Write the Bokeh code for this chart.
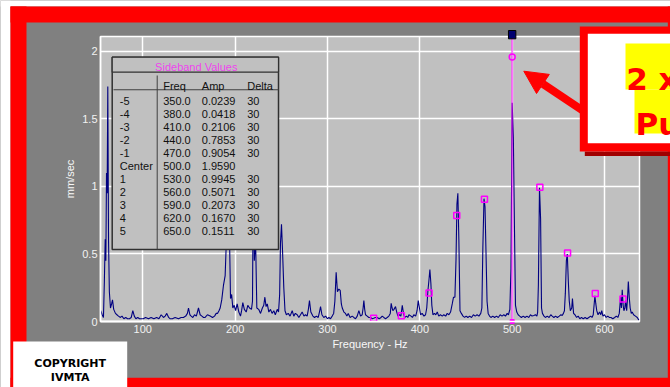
from bokeh.plotting import figure
from bokeh.models import (Range1d, BoxAnnotation, Label, Arrow, NormalHead, FixedTicker,
                          LinearAxis, Grid)
from bokeh.embed import file_html
from bokeh.resources import INLINE

# ---------------- data ----------------
x_ticks = [100, 200, 300, 400, 500, 600]
y_ticks = [0, 0.5, 1, 1.5, 2]
y_tick_labels = ["0", "0.5", "1", "1.5", "2"]
x_min, x_max = 54.2, 637.9
y_min, y_max = 0.0, 2.111

# spectrum (frequency Hz, amplitude mm/sec), digitised in segments
seg_low = [(54.5, 0.08), (56.0, 0.05), (57.4, 0.03), (58.4, 0.30), (59.3, 0.61), (60.0, 0.45),
           (60.7, 1.10), (61.4, 0.95), (62.1, 1.74), (62.9, 0.60), (63.8, 0.22), (65.0, 0.10),
           (66.2, 0.13), (67.2, 0.16), (68.5, 0.09), (70.4, 0.06), (72.0, 0.05), (73.7, 0.04),
           (75.8, 0.03), (77.5, 0.04), (79.5, 0.02), (81.5, 0.03), (83.5, 0.02), (85.5, 0.02),
           (87.5, 0.03), (89.2, 0.08), (90.8, 0.04), (92.5, 0.02), (94.5, 0.03), (96.5, 0.02),
           (98.5, 0.02)]
seg_100 = [(100.5, 0.02), (103.0, 0.03), (106.2, 0.02), (109.0, 0.03), (112.0, 0.02), (115.0, 0.03),
           (117.5, 0.02), (119.9, 0.05), (122.4, 0.03), (124.2, 0.04), (126.0, 0.06), (128.0, 0.03),
           (129.7, 0.02), (132.0, 0.02), (135.0, 0.03), (138.7, 0.02), (141.5, 0.03), (144.0, 0.03),
           (146.5, 0.04), (148.3, 0.06), (149.5, 0.10), (151.0, 0.05), (152.4, 0.04), (154.2, 0.03),
           (156.0, 0.05), (158.0, 0.04), (160.3, 0.10), (162.1, 0.05), (164.0, 0.04), (165.8, 0.03),
           (167.5, 0.03), (170.0, 0.05), (173.0, 0.04), (175.5, 0.03), (177.7, 0.04), (179.5, 0.06),
           (180.9, 0.06), (182.5, 0.08), (183.8, 0.10), (185.5, 0.16), (187.4, 0.27), (189.2, 0.34)]
seg_200 = [(190.6, 0.62), (191.5, 0.95), (192.5, 0.55), (193.5, 0.80), (195.0, 0.17), (196.2, 0.20),
           (197.5, 0.10), (199.0, 0.12), (200.5, 0.08), (202.2, 0.13), (204.0, 0.07), (205.8, 0.04),
           (207.0, 0.08), (208.3, 0.14), (210.0, 0.09), (212.0, 0.07), (213.7, 0.12), (215.6, 0.10),
           (217.7, 0.09), (218.8, 0.15), (219.6, 1.00), (220.8, 0.45), (222.1, 0.62), (223.5, 0.10),
           (225.5, 0.09), (227.5, 0.06), (229.5, 0.10), (231.0, 0.12), (232.2, 0.18), (233.5, 0.11),
           (234.8, 0.13), (236.5, 0.07), (238.3, 0.09), (240.0, 0.06), (241.9, 0.08), (243.5, 0.05),
           (245.6, 0.09), (247.0, 0.07), (248.2, 0.20), (249.1, 0.58), (250.2, 0.72), (251.3, 0.53),
           (252.7, 0.25), (254.0, 0.08), (255.5, 0.05), (257.5, 0.06), (259.5, 0.04), (261.8, 0.08),
           (263.5, 0.04), (265.2, 0.06), (267.2, 0.05), (269.0, 0.03), (270.8, 0.05), (272.6, 0.07),
           (274.5, 0.04), (276.2, 0.05), (278.0, 0.04), (279.3, 0.09), (280.5, 0.155), (282.0, 0.07),
           (284.2, 0.04), (286.0, 0.03), (288.0, 0.04), (290.0, 0.03), (291.3, 0.07), (292.5, 0.11),
           (294.0, 0.05), (296.0, 0.03), (298.0, 0.04), (300.0, 0.02), (301.5, 0.03), (303.3, 0.02),
           (305.1, 0.04), (306.7, 0.06), (308.0, 0.15), (309.4, 0.365), (310.8, 0.22), (312.3, 0.24),
           (313.8, 0.23), (315.0, 0.13), (316.0, 0.10), (317.8, 0.07), (319.5, 0.06), (321.0, 0.04),
           (322.5, 0.06), (324.5, 0.03), (326.8, 0.04)]
seg_400 = [(328.5, 0.03), (330.4, 0.02), (332.2, 0.04), (334.0, 0.08), (335.8, 0.04), (337.6, 0.05),
           (338.6, 0.10), (339.4, 0.155), (340.3, 0.09), (341.2, 0.05), (343.0, 0.04), (344.8, 0.03),
           (346.6, 0.03), (348.5, 0.02), (350.0, 0.024), (351.8, 0.03), (353.9, 0.03), (356.0, 0.02),
           (358.0, 0.03), (359.3, 0.04), (361.0, 0.03), (363.0, 0.02), (364.7, 0.03), (366.5, 0.04),
           (368.0, 0.06), (369.0, 0.135), (370.0, 0.10), (370.8, 0.08), (372.0, 0.09), (373.7, 0.11),
           (375.0, 0.07), (376.3, 0.04), (378.0, 0.05), (379.5, 0.04), (381.0, 0.12), (382.3, 0.06),
           (383.5, 0.03), (385.5, 0.04), (387.0, 0.03), (388.2, 0.05), (390.5, 0.04), (392.0, 0.03),
           (393.5, 0.05), (395.5, 0.04), (397.0, 0.08), (398.3, 0.155), (399.6, 0.10), (400.8, 0.05),
           (402.5, 0.06), (404.5, 0.04), (406.2, 0.05), (407.5, 0.10), (408.8, 0.23), (409.8, 0.30),
           (410.9, 0.385), (412.0, 0.28), (413.0, 0.12), (414.2, 0.05), (415.8, 0.06), (417.3, 0.05),
           (418.9, 0.07), (420.5, 0.04), (422.3, 0.05), (424.3, 0.04), (426.0, 0.05), (428.0, 0.04),
           (429.7, 0.06), (431.5, 0.05), (433.3, 0.07), (435.1, 0.13), (436.5, 0.18), (438.0, 0.18),
           (439.2, 0.46), (440.2, 0.87), (441.2, 0.95), (442.3, 0.60), (443.5, 0.08), (445.0, 0.06),
           (446.8, 0.04), (448.5, 0.03), (450.2, 0.04), (452.0, 0.03), (454.0, 0.04), (456.0, 0.03),
           (458.0, 0.05), (460.0, 0.04), (462.0, 0.05), (464.0, 0.04), (466.0, 0.06), (467.2, 0.10),
           (468.3, 0.56), (469.5, 0.91), (470.6, 0.85), (471.8, 0.47), (472.8, 0.15), (474.0, 0.06)]
seg_500 = [(475.5, 0.04), (477.0, 0.03), (479.0, 0.04), (481.0, 0.03), (483.0, 0.04), (485.0, 0.03),
           (487.0, 0.05), (489.0, 0.04), (491.0, 0.05), (492.8, 0.04), (494.6, 0.06), (496.0, 0.05),
           (497.5, 0.09), (498.7, 0.39), (500.0, 1.62), (501.3, 1.36), (502.5, 0.69), (503.6, 0.12),
           (505.0, 0.07), (506.5, 0.05), (508.2, 0.04), (510.0, 0.03), (512.0, 0.04), (514.0, 0.03),
           (516.0, 0.04), (518.0, 0.03), (519.8, 0.05), (521.5, 0.04), (523.5, 0.045), (525.2, 0.05),
           (526.8, 0.04), (527.6, 0.07), (528.4, 0.27), (529.6, 0.99), (530.8, 0.76), (531.8, 0.10),
           (532.8, 0.06)]
seg_600 = [(534.5, 0.04), (536.0, 0.03), (538.0, 0.04), (540.0, 0.03), (541.8, 0.05), (543.4, 0.04),
           (545.2, 0.03), (547.0, 0.04), (549.0, 0.03), (551.0, 0.04), (552.8, 0.05), (554.2, 0.045),
           (555.5, 0.06), (556.6, 0.08), (557.6, 0.21), (558.7, 0.45), (559.7, 0.50), (560.8, 0.30),
           (561.8, 0.155), (563.0, 0.08), (564.5, 0.10), (565.3, 0.17), (566.5, 0.06), (568.0, 0.05),
           (569.8, 0.03), (571.5, 0.04), (573.3, 0.02), (575.0, 0.03), (577.0, 0.02), (579.0, 0.03),
           (581.0, 0.02), (583.0, 0.03), (585.0, 0.04), (586.5, 0.03), (587.8, 0.05), (588.7, 0.12),
           (589.6, 0.19), (590.6, 0.13), (591.6, 0.08), (593.0, 0.05), (594.6, 0.07), (596.0, 0.05),
           (597.0, 0.08), (598.3, 0.04), (600.0, 0.05), (601.8, 0.03), (603.5, 0.04), (605.2, 0.03),
           (607.0, 0.03), (609.0, 0.02), (611.0, 0.03), (612.8, 0.04), (614.5, 0.03), (616.0, 0.06),
           (617.4, 0.18), (618.3, 0.10), (619.2, 0.235), (620.2, 0.12), (621.0, 0.08), (622.0, 0.10),
           (622.8, 0.155), (624.0, 0.08), (625.0, 0.18), (625.8, 0.296), (626.8, 0.18), (627.8, 0.10),
           (629.0, 0.06), (630.0, 0.07), (631.5, 0.05), (633.5, 0.04), (635.5, 0.03), (637.2, 0.01)]

# sideband table values
sb_order = ["-5", "-4", "-3", "-2", "-1", "Center", "1", "2", "3", "4", "5"]
sb_freq = [350.0, 380.0, 410.0, 440.0, 470.0, 500.0, 530.0, 560.0, 590.0, 620.0, 650.0]
sb_amp = [0.0239, 0.0418, 0.2106, 0.7853, 0.9054, 1.9590, 0.9945, 0.5071, 0.2073, 0.1670, 0.1511]
sb_delta = ["30", "30", "30", "30", "30", "", "30", "30", "30", "30", "30"]
center_index = 5

# ---------------- layout (canvas pixels) ----------------
W, H = 670, 387
FL, FR, FT, FB = 100, 639, 36, 321     # plot area inside the canvas
sx = (FR - FL) / (x_max - x_min)
sy = (FB - FT) / (y_max - y_min)
x_range = Range1d(x_min - FL / sx, x_min + (W - FL) / sx)
y_range = Range1d(y_min - (H - FB) / sy, y_max + FT / sy)

p = figure(width=W, height=H, output_backend="svg", toolbar_location=None, title=None,
           x_range=x_range, y_range=y_range, x_axis_type=None, y_axis_type=None,
           min_border=0)
p.background_fill_color = "#808080"
p.border_fill_color = "#808080"
p.outline_line_color = None

# plot area background
p.add_layout(BoxAnnotation(left=x_min, right=x_max, bottom=y_min, top=y_max, level="image",
                           fill_color="#c0c0c0", fill_alpha=1.0, line_color="white",
                           line_alpha=1.0, line_width=1.5))

# grid
xgrid = Grid(dimension=0, ticker=FixedTicker(ticks=x_ticks), bounds=(x_min, x_max),
             grid_line_color="white", grid_line_width=1.5)
ygrid = Grid(dimension=1, ticker=FixedTicker(ticks=y_ticks), bounds=(y_min, y_max),
             grid_line_color="white", grid_line_width=1.5)
try:
    xgrid.cross_bounds = (y_min, y_max)
    ygrid.cross_bounds = (x_min, x_max)
    p.add_layout(xgrid)
    p.add_layout(ygrid)
except Exception:
    p.segment(x0=x_ticks, y0=[y_min] * len(x_ticks), x1=x_ticks, y1=[y_max] * len(x_ticks),
              line_color="white", line_width=1.5, level="underlay")
    p.segment(x0=[x_min] * len(y_ticks), y0=y_ticks, x1=[x_max] * len(y_ticks), y1=y_ticks,
              line_color="white", line_width=1.5, level="underlay")

# axes
xaxis = LinearAxis(fixed_location=y_min, bounds=(x_min, x_max), ticker=FixedTicker(ticks=x_ticks),
                   axis_label="Frequency - Hz")
yaxis = LinearAxis(fixed_location=x_min, bounds=(y_min, y_max), ticker=FixedTicker(ticks=y_ticks),
                   axis_label="mm/sec", major_label_overrides=dict(zip(y_ticks, y_tick_labels)))
for ax in (xaxis, yaxis):
    ax.axis_line_color = "white"
    ax.axis_line_width = 1.5
    ax.major_tick_line_color = None
    ax.minor_tick_line_color = None
    ax.major_tick_out = 0
    ax.major_tick_in = 0
    ax.major_label_text_color = "#f2f2f2"
    ax.major_label_text_font = "Liberation Sans"
    ax.major_label_text_font_size = "11px"
    ax.major_label_standoff = 3
    ax.axis_label_text_color = "#f8f8f8"
    ax.axis_label_text_font = "Liberation Sans"
    ax.axis_label_text_font_size = "11px"
    ax.axis_label_text_font_style = "normal"
xaxis.axis_label_standoff = 2
yaxis.axis_label_standoff = 3
p.add_layout(xaxis, "below")
p.add_layout(yaxis, "left")

# spectrum
spectrum = seg_low + seg_100 + seg_200 + seg_400 + seg_500 + seg_600
spec_f = [pt[0] for pt in spectrum]
spec_a = [pt[1] for pt in spectrum]
p.line(spec_f, spec_a, line_color="#000080", line_width=1.1)

# cursor line at the center frequency
cf = sb_freq[center_index]
p.segment(x0=[cf], y0=[y_min], x1=[cf], y1=[y_max], line_color="#ff00ff", line_alpha=0.55,
          line_width=2)

# sideband markers (only those inside the displayed range)
side_f = [f for i, f in enumerate(sb_freq) if i != center_index and x_min <= f <= x_max]
side_a = [sb_amp[i] for i, f in enumerate(sb_freq) if i != center_index and x_min <= f <= x_max]
p.scatter(side_f, side_a, marker="square", size=6, fill_color=None,
          line_color="#ff00ff", line_width=1.5)
p.scatter([cf], [sb_amp[center_index]], marker="circle", size=6,
          fill_color=None, line_color="#ff00ff", line_width=1.5)
p.scatter([cf], [y_min], marker="square", size=4, fill_color="#ff00ff", line_color="#ff00ff")


def box(l, t, r, b, fill, line=None, lw=1.0):
    p.add_layout(BoxAnnotation(left=l, right=r, top=t, bottom=b,
                               left_units="canvas", right_units="canvas",
                               top_units="canvas", bottom_units="canvas",
                               fill_color=fill, fill_alpha=1.0,
                               line_color=line, line_alpha=1.0, line_width=lw))


def label(x, y, text, size, color, font="Liberation Sans", style="normal", align="left"):
    p.add_layout(Label(x=x, y=y, x_units="canvas", y_units="canvas", text=text,
                       text_font=font, text_font_size=f"{size}px", text_color=color,
                       text_font_style=style, text_align=align, text_baseline="alphabetic"))


# outer frame decorations
box(0, 0, 10, H, "white")
box(0, 0, W, 6, "white")
box(10, 6, W, 22, "#ff0000")
box(10, 6, 26, H, "#ff0000")
box(667.3, 6, W, H, "#ff0000")
box(10, 377.3, W, H, "#ff0000")
box(12.7, 341, 126.7, H, "white")
label(69.7, 363.3, "COPYRIGHT", 11, "black", font="DejaVu Sans", style="bold", align="center")
label(69.7, 377.3, "IVMTA", 11, "black", font="DejaVu Sans", style="bold", align="center")

# sideband values table
box(111.7, 56.7, 278, 249, "#c0c0c0", "#303030", 1.5)
box(111.7, 56.7, 278, 71.7, "#c0c0c0", "#303030", 1.2)
box(113, 88.8, 278, 89.8, "#404040")
box(156.2, 75, 157.2, 249, "#404040")
label(195.8, 66, "Sideband Values", 11, "#ee44ee", align="center")
col_x = [119.3, 162.7, 201.3, 246.7]
label(col_x[1], 85.3, "Freq", 11, "#111111")
label(col_x[2], 85.3, "Amp", 11, "#111111")
label(col_x[3], 85.3, "Delta", 11, "#111111")
for i, name in enumerate(sb_order):
    yb = 100 + i * 13.05
    label(col_x[0], yb, name, 11, "#111111")
    label(col_x[1], yb, f"{sb_freq[i]:.1f}", 11, "#111111")
    label(col_x[2], yb, f"{sb_amp[i]:.4f}", 11, "#111111")
    label(col_x[3], yb, sb_delta[i], 11, "#111111")

# cursor handle at the top of the center line
p.add_layout(BoxAnnotation(left=cf - 4.0, right=cf + 4.0, top=30, bottom=38.3,
                           left_units="data", right_units="data",
                           top_units="canvas", bottom_units="canvas",
                           fill_color="#000070", fill_alpha=1.0, line_color="black",
                           line_alpha=1.0, line_width=1))

# arrow pointing at the center peak
p.add_layout(Arrow(end=NormalHead(size=23, fill_color="#ff0000", line_color="#ff0000"),
                   x_start=584.9, y_start=1.524, x_end=512.6, y_end=1.854,
                   line_color="#ff0000", line_width=8))

# callout box
box(584.3, 151, W, 155.5, "#a00000")
box(579.3, 26, W, 151, "#ff0000")
box(587.3, 33.3, W, 142.7, "white")
box(625, 43, W, 89, "#ffff00")
box(634, 89, W, 133, "#ffff00")
label(625.7, 78, "2 x", 31, "#ff0000", font="DejaVu Sans", style="bold")
label(635, 123, "Pu", 31, "#ff0000", font="DejaVu Sans", style="bold")

open("out.html", "w").write(file_html(p, INLINE))
